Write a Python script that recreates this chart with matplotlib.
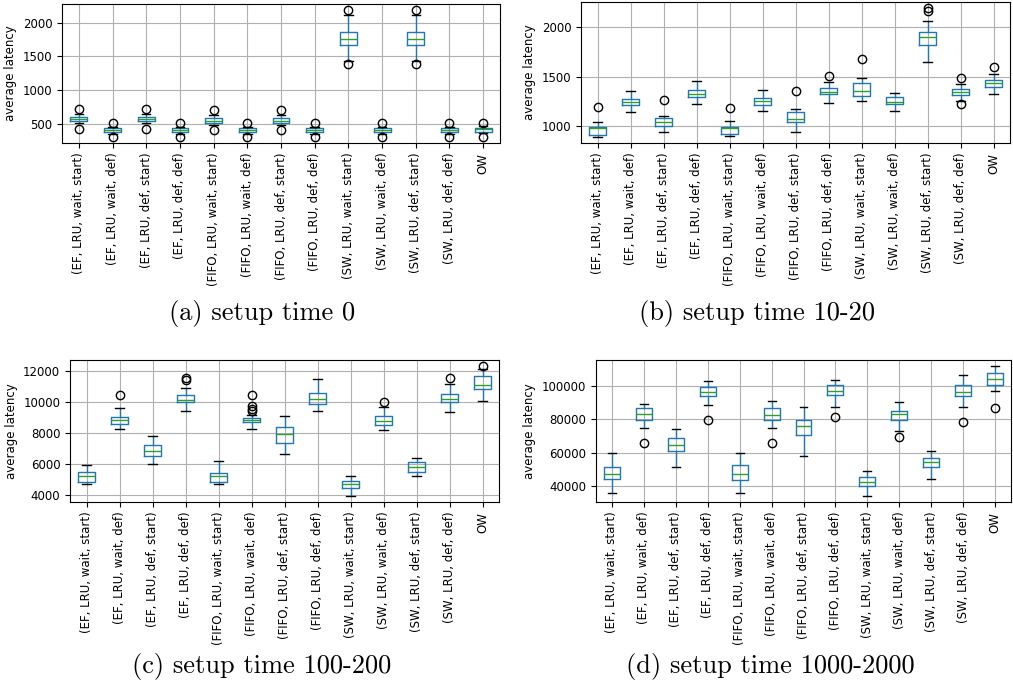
import matplotlib
matplotlib.use("Agg")
import matplotlib.pyplot as plt

labels = ["(EF, LRU, wait, start)", "(EF, LRU, wait, def)", "(EF, LRU, def, start)",
          "(EF, LRU, def, def)", "(FIFO, LRU, wait, start)", "(FIFO, LRU, wait, def)",
          "(FIFO, LRU, def, start)", "(FIFO, LRU, def, def)", "(SW, LRU, wait, start)",
          "(SW, LRU, wait, def)", "(SW, LRU, def, start)", "(SW, LRU, def, def)", "OW"]

# (a) setup time 0
a_lo = [515, 357, 515, 357, 490, 357, 490, 357, 1427, 357, 1427, 357, 367]
a_q1 = [549, 382, 549, 382, 515, 382, 515, 382, 1674, 382, 1674, 382, 391]
a_med = [579, 411, 579, 411, 554, 411, 554, 411, 1755, 411, 1755, 411, 426]
a_q3 = [613, 441, 613, 441, 589, 441, 589, 441, 1857, 441, 1857, 441, 451]
a_hi = [653, 465, 653, 465, 638, 465, 638, 465, 2118, 465, 2118, 465, 480]
a_fl = [[727, 431], [515, 317], [727, 431], [515, 317], [710, 416], [515, 317],
        [710, 416], [515, 317], [2180, 1393], [515, 317], [2180, 1393], [515, 317],
        [525, 317]]

# (b) setup time 10-20
b_lo = [897, 1147, 947, 1227, 900, 1153, 943, 1233, 1253, 1153, 1653, 1253, 1323]
b_q1 = [917, 1213, 1007, 1300, 923, 1213, 1043, 1323, 1307, 1223, 1820, 1317, 1397]
b_med = [985, 1243, 1047, 1330, 985, 1257, 1073, 1343, 1363, 1243, 1903, 1343, 1440]
b_q3 = [993, 1277, 1083, 1370, 990, 1287, 1150, 1390, 1443, 1293, 1953, 1383, 1470]
b_hi = [1047, 1357, 1110, 1460, 1050, 1367, 1180, 1447, 1493, 1333, 2067, 1427, 1533]
b_fl = [[1193], [], [1270], [], [1190], [], [1363], [1513], [1683], [],
        [2193, 2167], [1490, 1223], [1600]]

# (c) setup time 100-200
c_lo = [4714, 8260, 5968, 9449, 4714, 8260, 6660, 9406, 3957, 8173, 5190, 9362, 10054]
c_q1 = [4844, 8606, 6487, 9989, 4844, 8692, 7373, 9903, 4433, 8519, 5492, 10011, 10811]
c_med = [5233, 8865, 6811, 10141, 5190, 8865, 7935, 10206, 4714, 8757, 5795, 10206, 11092]
c_q3 = [5449, 9038, 7200, 10465, 5406, 8973, 8368, 10595, 4909, 9081, 6098, 10530, 11697]
c_hi = [5903, 9622, 7784, 10919, 6162, 9146, 9124, 11503, 5233, 9665, 6379, 11178, 12108]
c_fl = [[], [10465], [], [11546, 11416], [], [10465, 9730, 9557, 9406], [], [], [],
        [10011], [], [11568], [12300]]

# (d) setup time 1000-2000
d_lo = [35610, 74930, 51050, 88370, 35610, 74930, 58070, 87160, 34200, 72720, 44030, 87560, 96990]
d_q1 = [44030, 79540, 60880, 93980, 43430, 79740, 70510, 94580, 40220, 79740, 51450, 93780, 100600]
d_med = [47240, 83150, 64690, 96590, 47040, 82550, 76130, 96990, 42230, 83150, 54060, 96590, 104010]
d_q3 = [51250, 86560, 68510, 99600, 52460, 86560, 79340, 100600, 45030, 84950, 56670, 100600, 107620]
d_hi = [59480, 89170, 73920, 102800, 59480, 91170, 87160, 103400, 48850, 90170, 60680, 106220, 111640]
d_fl = [[], [65700], [], [79540], [], [65700], [], [81340], [], [69310], [], [78330], [86760]]

captions = ["(a) setup time 0", "(b) setup time 10-20",
            "(c) setup time 100-200", "(d) setup time 1000-2000"]

W, H = 1013, 691
fig = plt.figure(figsize=(W / 100, H / 100), dpi=100)

# axes boxes in pixels: left, top, right, bottom
boxes = [(62, 4, 500, 143), (581, 2, 1010, 143), (70, 360, 499, 502), (596, 360, 1011, 502)]
panels = [(a_lo, a_q1, a_med, a_q3, a_hi, a_fl), (b_lo, b_q1, b_med, b_q3, b_hi, b_fl),
          (c_lo, c_q1, c_med, c_q3, c_hi, c_fl), (d_lo, d_q1, d_med, d_q3, d_hi, d_fl)]
cap_pos = [(262, 314), (757, 314), (262, 666), (770, 666)]

for (l, t, r, b), data, cap, (cx, cy) in zip(boxes, panels, captions, cap_pos):
    ax = fig.add_axes([l / W, 1 - b / H, (r - l) / W, (b - t) / H])
    lo, q1, med, q3, hi, fl = data
    stats = []
    for i in range(len(labels)):
        stats.append(dict(whislo=lo[i], q1=q1[i], med=med[i], q3=q3[i],
                          whishi=hi[i], fliers=fl[i]))
    ax.bxp(stats, positions=range(1, len(labels) + 1), widths=0.5,
           boxprops=dict(color='#1f77b4'), whiskerprops=dict(color='#1f77b4'),
           medianprops=dict(color='#2ca02c'), capprops=dict(color='k'),
           flierprops=dict(marker='o', markerfacecolor='none', markeredgecolor='k'))
    ax.set_xticks(range(1, len(labels) + 1))
    ax.set_xticklabels(labels, rotation=90, fontsize=8.5)
    ax.tick_params(axis='y', labelsize=8.5)
    ax.set_ylabel('average latency', fontsize=8.5)
    ax.grid(True)
    fig.text(cx / W, 1 - cy / H, cap, ha='center', va='center',
             fontsize=19, family='cmr10')

plt.savefig('out.png', dpi=100)
